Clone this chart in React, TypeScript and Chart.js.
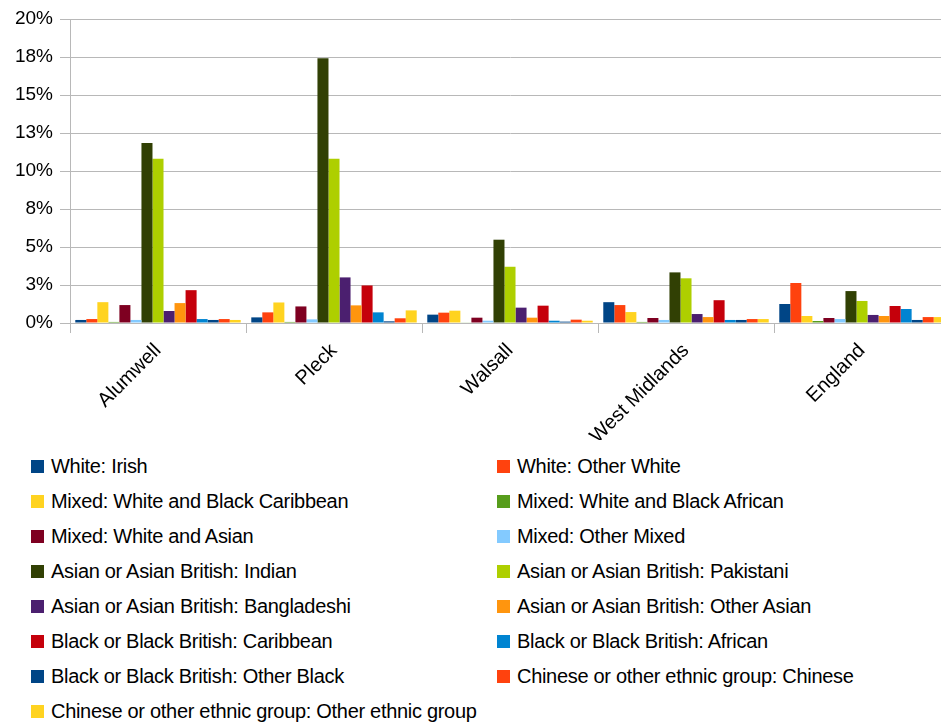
import React, { useEffect, useRef } from "react";
import { Chart, registerables } from "chart.js";

Chart.register(...registerables);

const categories = ["Alumwell", "Pleck", "Walsall", "West Midlands", "England"];

const seriesNames = [
  "White: Irish",
  "White: Other White",
  "Mixed: White and Black Caribbean",
  "Mixed: White and Black African",
  "Mixed: White and Asian",
  "Mixed: Other Mixed",
  "Asian or Asian British: Indian",
  "Asian or Asian British: Pakistani",
  "Asian or Asian British: Bangladeshi",
  "Asian or Asian British: Other Asian",
  "Black or Black British: Caribbean",
  "Black or Black British: African",
  "Black or Black British: Other Black",
  "Chinese or other ethnic group: Chinese",
  "Chinese or other ethnic group: Other ethnic group",
];

const seriesColors = [
  "#004586", "#ff420e", "#ffd320", "#579d1c", "#7e0021", "#83caff",
  "#314004", "#aecf00", "#4b1f6f", "#ff950e", "#c5000b", "#0084d1",
  "#004586", "#ff420e", "#ffd320",
];

const whiteIrish = [0.2, 0.37, 0.55, 1.37, 1.25];
const whiteOther = [0.26, 0.7, 0.68, 1.18, 2.63];
const mixedWhiteBlackCaribbean = [1.37, 1.35, 0.81, 0.72, 0.46];
const mixedWhiteBlackAfrican = [0.07, 0.07, 0.04, 0.07, 0.13];
const mixedWhiteAsian = [1.18, 1.09, 0.35, 0.33, 0.33];
const mixedOther = [0.2, 0.24, 0.15, 0.2, 0.26];
const asianIndian = [11.85, 17.42, 5.48, 3.33, 2.1];
const asianPakistani = [10.8, 10.8, 3.7, 2.94, 1.45];
const asianBangladeshi = [0.79, 3.0, 1.01, 0.59, 0.53];
const asianOther = [1.31, 1.16, 0.35, 0.39, 0.46];
const blackCaribbean = [2.16, 2.47, 1.14, 1.5, 1.12];
const blackAfrican = [0.26, 0.7, 0.15, 0.2, 0.92];
const blackOther = [0.2, 0.11, 0.09, 0.2, 0.2];
const chinese = [0.26, 0.31, 0.22, 0.26, 0.39];
const otherEthnic = [0.2, 0.83, 0.15, 0.26, 0.39];

const seriesValues = [
  whiteIrish, whiteOther, mixedWhiteBlackCaribbean, mixedWhiteBlackAfrican,
  mixedWhiteAsian, mixedOther, asianIndian, asianPakistani, asianBangladeshi,
  asianOther, blackCaribbean, blackAfrican, blackOther, chinese, otherEthnic,
];

const yTickLabels = ["0%", "3%", "5%", "8%", "10%", "13%", "15%", "18%", "20%"];

const FONT = "'Liberation Sans', Arial, sans-serif";
const GRID = "#b8b8b8";

export default function App() {
  const ref = useRef<HTMLCanvasElement | null>(null);

  useEffect(() => {
    if (!ref.current) return;
    const chart = new Chart(ref.current, {
      type: "bar",
      data: {
        labels: categories,
        datasets: seriesNames.map((name, i) => ({
          label: name,
          data: seriesValues[i],
          backgroundColor: seriesColors[i],
          borderWidth: 0,
          categoryPercentage: 0.94,
          barPercentage: 1,
        })),
      },
      options: {
        animation: false,
        responsive: false,
        maintainAspectRatio: false,
        layout: { padding: { top: 19, left: 0, right: 0, bottom: 0 } },
        plugins: { legend: { display: false }, tooltip: { enabled: false } },
        scales: {
          x: {
            grid: {
              display: true,
              drawOnChartArea: false,
              drawTicks: true,
              tickLength: 10,
              color: GRID,
              offset: true,
            },
            border: { color: GRID },
            ticks: {
              maxRotation: 45,
              minRotation: 45,
              color: "#000",
              padding: 6,
              font: { family: FONT, size: 20 },
            },
            afterFit: (s: any) => {
              s.height = 440 - 323;
            },
          },
          y: {
            min: 0,
            max: 20,
            grid: { color: GRID, tickLength: 10 },
            border: { color: GRID },
            ticks: {
              stepSize: 2.5,
              color: "#000",
              padding: 7,
              font: { family: FONT, size: 19 },
              callback: (_v: any, i: number) => yTickLabels[i],
            },
            afterFit: (s: any) => {
              s.width = 70;
            },
          },
        },
      },
    });
    return () => chart.destroy();
  }, []);

  return (
    <div
      style={{
        position: "absolute",
        left: 0,
        top: 0,
        width: 941,
        height: 724,
        overflow: "hidden",
        background: "#fff",
        fontFamily: FONT,
      }}
    >
      <canvas ref={ref} width={950} height={440} style={{ display: "block", width: 950, height: 440 }} />
      {seriesNames.map((name, i) => {
        const row = Math.floor(i / 2);
        const col = i % 2;
        return (
          <div
            key={name}
            style={{
              position: "absolute",
              left: col === 0 ? 31 : 497,
              top: 454 + row * 35,
              height: 24,
              display: "flex",
              alignItems: "center",
              whiteSpace: "nowrap",
            }}
          >
            <span
              style={{
                display: "inline-block",
                width: 13,
                height: 13,
                background: seriesColors[i],
                marginRight: 7,
              }}
            />
            <span style={{ fontSize: 20, letterSpacing: "-0.3px", color: "#000" }}>{name}</span>
          </div>
        );
      })}
    </div>
  );
}
